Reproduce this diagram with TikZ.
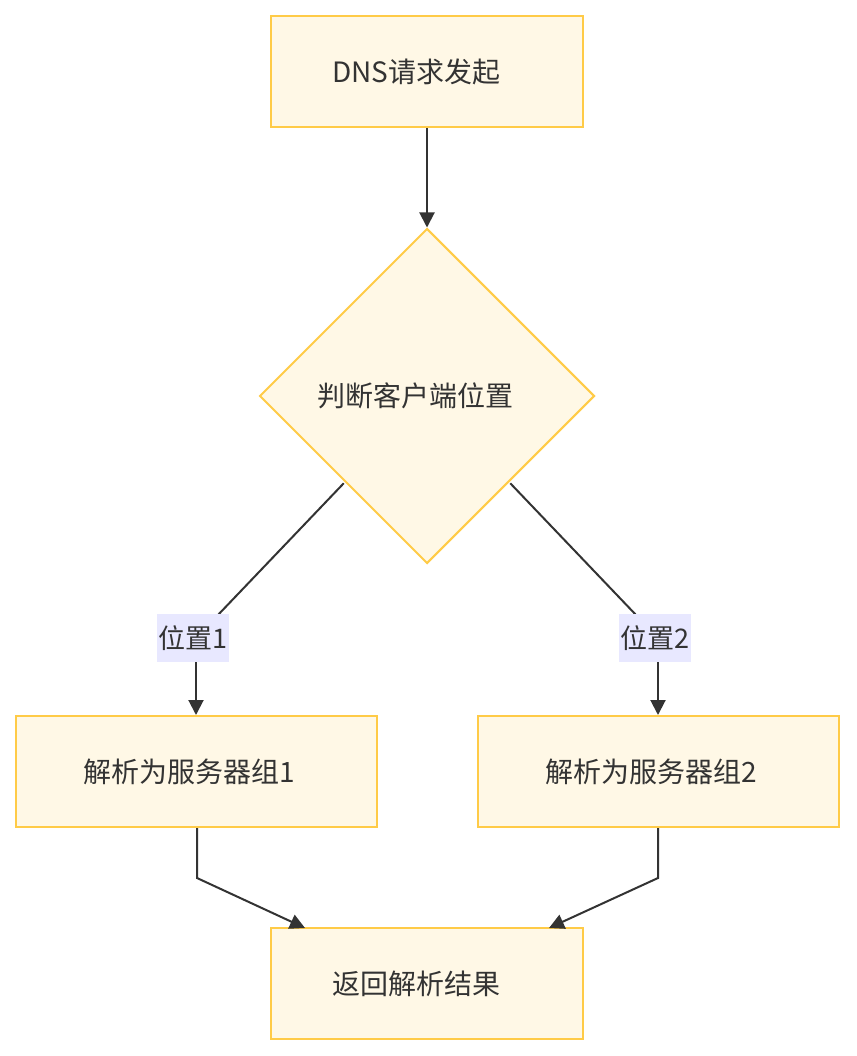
\documentclass[tikz,border=0pt]{standalone}
\usepackage{fontspec}
\setmainfont{Noto Sans CJK SC}
\usetikzlibrary{shapes.geometric,arrows.meta}
\definecolor{nodefill}{HTML}{FFF8E6}
\definecolor{nodedraw}{HTML}{FFCB47}
\definecolor{lbl}{HTML}{E8E8FF}
\definecolor{ink}{HTML}{333333}
\tikzset{
  leftshift/.style={execute at begin node={\hspace*{-#1}}},
  proc/.style={draw=nodedraw, fill=nodefill, line width=2pt, minimum width=312pt, minimum height=111pt, inner sep=0pt, text=ink, font=\fontsize{28}{32}\selectfont, leftshift=21pt},
  wide/.style={draw=nodedraw, fill=nodefill, line width=2pt, minimum width=361pt, minimum height=111pt, inner sep=0pt, text=ink, font=\fontsize{28}{32}\selectfont, leftshift=14pt},
  decide/.style={diamond, aspect=1, draw=nodedraw, fill=nodefill, line width=2pt, minimum width=335pt, minimum height=335pt, inner sep=0pt, text=ink, font=\fontsize{28}{32}\selectfont, leftshift=23pt},
  elabel/.style={fill=lbl, text=ink, inner xsep=1.5pt, inner ysep=0pt, minimum height=48pt, font=\fontsize{27}{31}\selectfont},
  conn/.style={draw=ink, line width=2pt, -{Triangle[width=15pt,length=15pt]}},
  plain/.style={draw=ink, line width=2pt}
}
\begin{document}
\begin{tikzpicture}[x=1pt,y=-1pt]
\useasboundingbox (0,0) rectangle (856,1056);
\node[proc] (start) at (427,72) {DNS请求发起};
\node[decide] (d) at (427,396) {判断客户端位置};
\node[wide] (g1) at (196.5,771.5) {解析为服务器组1};
\node[wide] (g2) at (658.5,771.5) {解析为服务器组2};
\node[proc] (res) at (427,983.5) {返回解析结果};
\coordinate (l1) at (196,638);
\coordinate (l2) at (658,638);
\coordinate (b1) at (197,878);
\coordinate (b2) at (658,878);
\coordinate (r1) at (305,928);
\coordinate (r2) at (549,928);
\draw[conn] (start) -- (d);
\draw[plain] ([shift={(1,3)}]d.south west) -- (l1);
\draw[conn] (l1) -- (g1.north -| l1);
\draw[plain] ([shift={(-1,3)}]d.south east) -- (l2);
\draw[conn] (l2) -- (g2.north -| l2);
\node[elabel] (lab1) at (193,638) {位置1};
\node[elabel] (lab2) at (655,638) {位置2};
\draw[conn] (g1.south -| b1) -- (b1) -- (r1);
\draw[conn] (g2.south -| b2) -- (b2) -- (r2);
\end{tikzpicture}
\end{document}
